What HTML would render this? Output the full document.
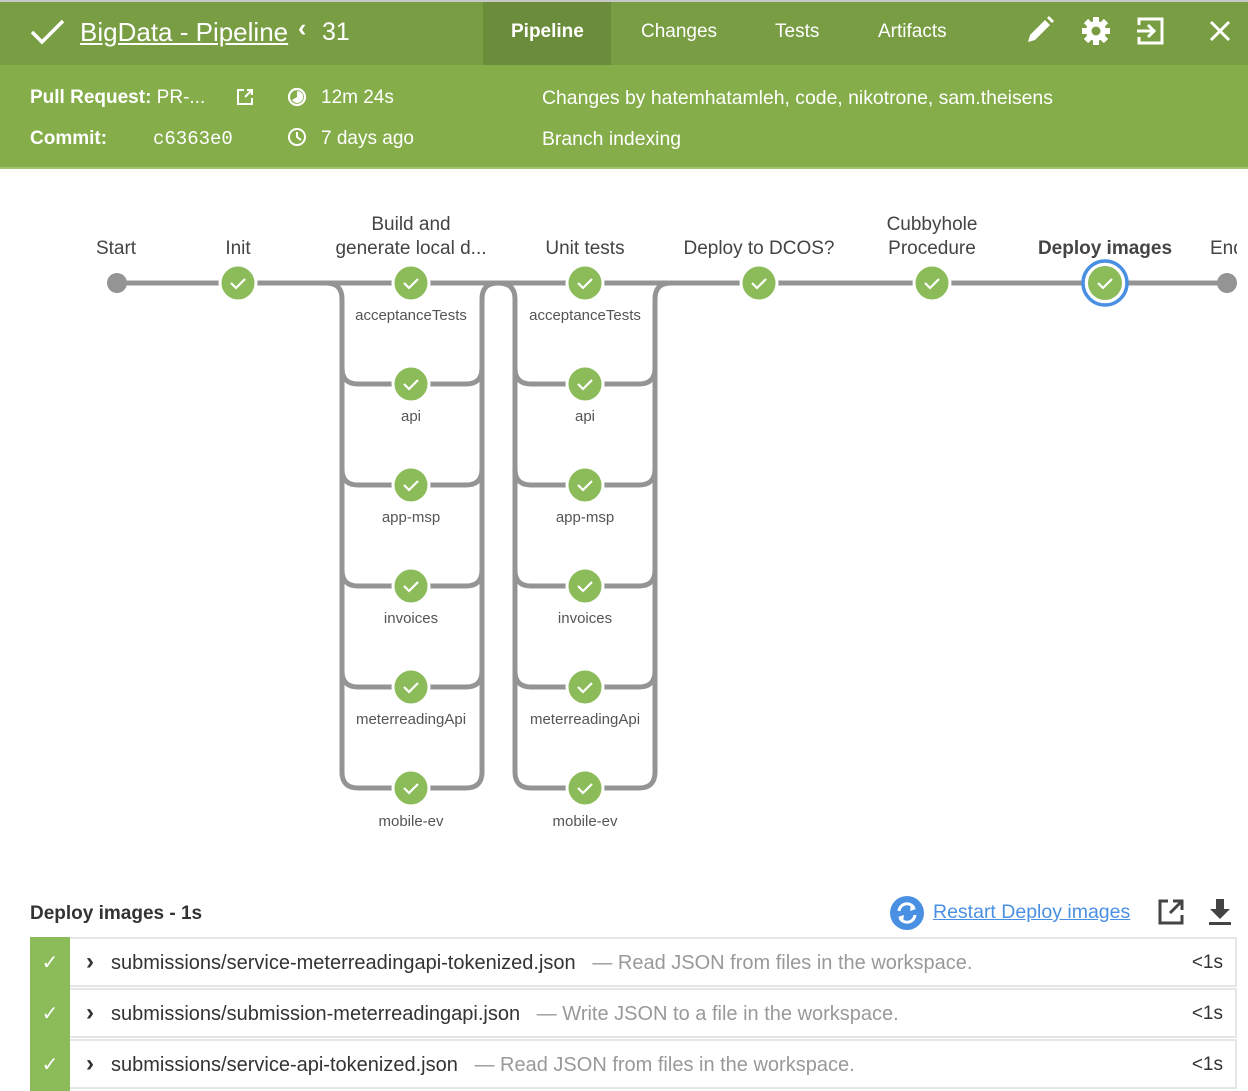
<!DOCTYPE html>
<html><head><meta charset="utf-8">
<style>
*{margin:0;padding:0;box-sizing:border-box}
body{width:1248px;height:1068px;overflow:hidden;background:#fff;font-family:"Liberation Sans",sans-serif;position:relative}
.a{position:absolute;white-space:nowrap}
.hb{position:absolute;left:0;top:0;width:1248px;height:65px;background:#789d43;border-top:2px solid #c8c8c8}
.sb{position:absolute;left:0;top:65px;width:1248px;height:104px;background:#85ad4a;border-bottom:2px solid #a3c46f}
.w{color:#fff}
.row{position:absolute;left:30px;width:1207px;height:50px;border:2px solid #e6e6e6;border-left:none}
.row .g{position:absolute;left:0;top:-2px;width:40px;height:52px;background:#8cbb5a;color:#fff;font-size:20px;text-align:center;line-height:52px}
.row .t{position:absolute;left:81px;top:13px;font-size:20px;color:#333}
.row .t span{color:#999}
.row .c{position:absolute;left:56px;top:9px;font-size:24px;font-weight:bold;color:#333}
.row .d{position:absolute;right:12px;top:13px;font-size:19px;color:#333}
</style></head><body>
<div class="hb"></div>
<div class="a" style="left:483px;top:2px;width:128px;height:63px;background:#6b8c3a"></div>
<svg class="a" style="left:30px;top:18px" width="36" height="28"><polyline points="2,14 12,24 33,3" fill="none" stroke="#fff" stroke-width="3.5"/></svg>
<div class="a w" style="left:80px;top:17px;font-size:26px;text-decoration:underline">BigData - Pipeline</div>
<div class="a w" style="left:298px;top:14px;font-size:25px;font-weight:bold">‹</div>
<div class="a w" style="left:322px;top:18px;font-size:25px">31</div>
<div class="a w" style="left:511px;top:21px;font-size:19px;font-weight:bold">Pipeline</div>
<div class="a w" style="left:641px;top:21px;font-size:19px">Changes</div>
<div class="a w" style="left:775px;top:21px;font-size:19px">Tests</div>
<div class="a w" style="left:878px;top:21px;font-size:19px">Artifacts</div>
<svg class="a" style="left:1024px;top:14px" width="32" height="32"><path d="M4 28 L6 21 L21 6 L26 11 L11 26 Z" fill="#fff"/><path d="M23 4 L25 2 L30 7 L28 9Z" fill="#fff"/></svg>
<svg class="a" style="left:1080px;top:15px" width="32" height="32" viewBox="0 0 32 32"><g fill="#fff"><circle cx="16" cy="16" r="10"/><g stroke="#fff" stroke-width="6"><line x1="16" y1="2" x2="16" y2="30"/><line x1="2" y1="16" x2="30" y2="16"/><line x1="6" y1="6" x2="26" y2="26"/><line x1="26" y1="6" x2="6" y2="26"/></g></g><circle cx="16" cy="16" r="4.5" fill="#789d43"/></svg>
<svg class="a" style="left:1135px;top:16px" width="32" height="30"><path d="M4 9 V3 H27 V27 H4 V21" fill="none" stroke="#fff" stroke-width="3"/><path d="M2 15 H19 M13 9 L19 15 L13 21" fill="none" stroke="#fff" stroke-width="3"/></svg>
<svg class="a" style="left:1208px;top:19px" width="24" height="24"><path d="M3 3 L21 21 M21 3 L3 21" stroke="#fff" stroke-width="3"/></svg>

<div class="sb"></div>
<div class="a w" style="left:30px;top:87px;font-size:19px"><b>Pull Request:</b> PR-...</div>
<svg class="a" style="left:236px;top:88px" width="18" height="18"><path d="M8 2 H2 V16 H16 V10" fill="none" stroke="#fff" stroke-width="2"/><path d="M9 9 L16 2 M11 2 H16 V7" fill="none" stroke="#fff" stroke-width="2"/></svg>
<svg class="a" style="left:287px;top:87px" width="20" height="20"><circle cx="10" cy="10" r="8" fill="none" stroke="#fff" stroke-width="2.2"/><path d="M10 4 A6 6 0 1 1 5 13 L10 10Z" fill="#fff"/></svg>
<div class="a w" style="left:321px;top:87px;font-size:19px">12m 24s</div>
<div class="a w" style="left:30px;top:128px;font-size:19px;font-weight:bold">Commit:</div>
<div class="a w" style="left:153px;top:128px;font-size:19px;font-family:'Liberation Mono',monospace">c6363e0</div>
<svg class="a" style="left:287px;top:127px" width="20" height="20"><circle cx="10" cy="10" r="8" fill="none" stroke="#fff" stroke-width="2"/><path d="M10 5 V10 L14 13" fill="none" stroke="#fff" stroke-width="2"/></svg>
<div class="a w" style="left:321px;top:128px;font-size:19px">7 days ago</div>
<div class="a w" style="left:542px;top:87px;font-size:19.4px">Changes by hatemhatamleh, code, nikotrone, sam.theisens</div>
<div class="a w" style="left:542px;top:128px;font-size:19.4px">Branch indexing</div>

<svg class="a" style="left:0;top:170px" width="1248" height="700" viewBox="0 170 1248 700" font-family="Liberation Sans, sans-serif">
<defs><clipPath id="cp"><rect x="0" y="170" width="1237" height="700"/></clipPath></defs>
<g fill="#444" font-size="19" text-anchor="middle">
<text x="116" y="254">Start</text>
<text x="238" y="254">Init</text>
<text x="411" y="230">Build and</text>
<text x="411" y="254">generate local d...</text>
<text x="585" y="254">Unit tests</text>
<text x="759" y="254">Deploy to DCOS?</text>
<text x="932" y="230">Cubbyhole</text>
<text x="932" y="254">Procedure</text>
<text x="1105" y="254" font-weight="bold">Deploy images</text>
<text x="1210" y="254" text-anchor="start" clip-path="url(#cp)">End</text>
</g>
<g fill="none" stroke="#949494" stroke-width="5">
<path d="M117 283 H1227"/>
<path d="M326 283 Q342 283 342 299 V772 Q342 788 358 788 H394"/>
<path d="M428 788 H466 Q482 788 482 772 V299 Q482 283 498 283 Q515 283 515 299 V772 Q515 788 531 788 H568"/>
<path d="M602 788 H639 Q655 788 655 772 V299 Q655 283 671 283"/>
<path d="M342 368 Q342 384 358 384 H394 M342 469 Q342 485 358 485 H394 M342 570 Q342 586 358 586 H394 M342 671 Q342 687 358 687 H394"/>
<path d="M428 384 H466 Q482 384 482 368 M428 485 H466 Q482 485 482 469 M428 586 H466 Q482 586 482 570 M428 687 H466 Q482 687 482 671"/>
<path d="M515 368 Q515 384 531 384 H568 M515 469 Q515 485 531 485 H568 M515 570 Q515 586 531 586 H568 M515 671 Q515 687 531 687 H568"/>
<path d="M602 384 H639 Q655 384 655 368 M602 485 H639 Q655 485 655 469 M602 586 H639 Q655 586 655 570 M602 687 H639 Q655 687 655 671"/>
</g>
<circle cx="117" cy="283" r="10" fill="#949494"/>
<circle cx="1227" cy="283" r="10" fill="#949494"/>
<circle cx="1105" cy="283" r="22" fill="#fff" stroke="#4a90e2" stroke-width="3.5"/>
<g fill="#8cbb5a" stroke="#fff" stroke-width="3">
<circle cx="238" cy="283" r="18"/><circle cx="411" cy="283" r="18"/><circle cx="585" cy="283" r="18"/><circle cx="759" cy="283" r="18"/><circle cx="932" cy="283" r="18"/><circle cx="1105" cy="283" r="17" stroke="none"/>
<circle cx="411" cy="384" r="18"/><circle cx="411" cy="485" r="18"/><circle cx="411" cy="586" r="18"/><circle cx="411" cy="687" r="18"/><circle cx="411" cy="788" r="18"/>
<circle cx="585" cy="384" r="18"/><circle cx="585" cy="485" r="18"/><circle cx="585" cy="586" r="18"/><circle cx="585" cy="687" r="18"/><circle cx="585" cy="788" r="18"/>
</g>
<g fill="none" stroke="#fff" stroke-width="2.2">
<path d="M231 283 l5 5 l9 -9 M404 283 l5 5 l9 -9 M578 283 l5 5 l9 -9 M752 283 l5 5 l9 -9 M925 283 l5 5 l9 -9 M1098 283 l5 5 l9 -9"/>
<path d="M404 384 l5 5 l9 -9 M404 485 l5 5 l9 -9 M404 586 l5 5 l9 -9 M404 687 l5 5 l9 -9 M404 788 l5 5 l9 -9"/>
<path d="M578 384 l5 5 l9 -9 M578 485 l5 5 l9 -9 M578 586 l5 5 l9 -9 M578 687 l5 5 l9 -9 M578 788 l5 5 l9 -9"/>
</g>
<g fill="#555" font-size="15" text-anchor="middle">
<text x="411" y="320">acceptanceTests</text><text x="411" y="421">api</text><text x="411" y="522">app-msp</text><text x="411" y="623">invoices</text><text x="411" y="724">meterreadingApi</text><text x="411" y="826">mobile-ev</text>
<text x="585" y="320">acceptanceTests</text><text x="585" y="421">api</text><text x="585" y="522">app-msp</text><text x="585" y="623">invoices</text><text x="585" y="724">meterreadingApi</text><text x="585" y="826">mobile-ev</text>
</g>
</svg>

<div class="a" style="left:30px;top:903px;font-size:19px;color:#333;font-weight:bold">Deploy images - 1s</div>
<svg class="a" style="left:889px;top:895px" width="36" height="36"><circle cx="18" cy="18" r="17" fill="#4a90e2"/><path d="M10 16 A8 8 0 0 1 25 13 M26 20 A8 8 0 0 1 11 23" fill="none" stroke="#fff" stroke-width="3"/><path d="M22 10 L27 14 L21 16Z M14 26 L9 22 L15 20Z" fill="#fff"/></svg>
<div class="a" style="left:933px;top:901px;font-size:19.5px;color:#4a90e2;text-decoration:underline">Restart Deploy images</div>
<svg class="a" style="left:1157px;top:898px" width="28" height="28"><path d="M11 3 H3 V25 H25 V17" fill="none" stroke="#444" stroke-width="3"/><path d="M13 15 L24 4 M16 3 H25 V12" fill="none" stroke="#444" stroke-width="3"/></svg>
<svg class="a" style="left:1207px;top:897px" width="26" height="30"><path d="M9 2 H17 V12 H23 L13 22 L3 12 H9Z" fill="#444"/><rect x="2" y="25" width="22" height="3" fill="#444"/></svg>

<div class="row" style="top:937px"><div class="g">✓</div><div class="c">›</div><div class="t">submissions/service-meterreadingapi-tokenized.json &nbsp; <span>— Read JSON from files in the workspace.</span></div><div class="d">&lt;1s</div></div>
<div class="row" style="top:988px"><div class="g">✓</div><div class="c">›</div><div class="t">submissions/submission-meterreadingapi.json &nbsp; <span>— Write JSON to a file in the workspace.</span></div><div class="d">&lt;1s</div></div>
<div class="row" style="top:1039px"><div class="g">✓</div><div class="c">›</div><div class="t">submissions/service-api-tokenized.json &nbsp; <span>— Read JSON from files in the workspace.</span></div><div class="d">&lt;1s</div></div>
</body></html>
